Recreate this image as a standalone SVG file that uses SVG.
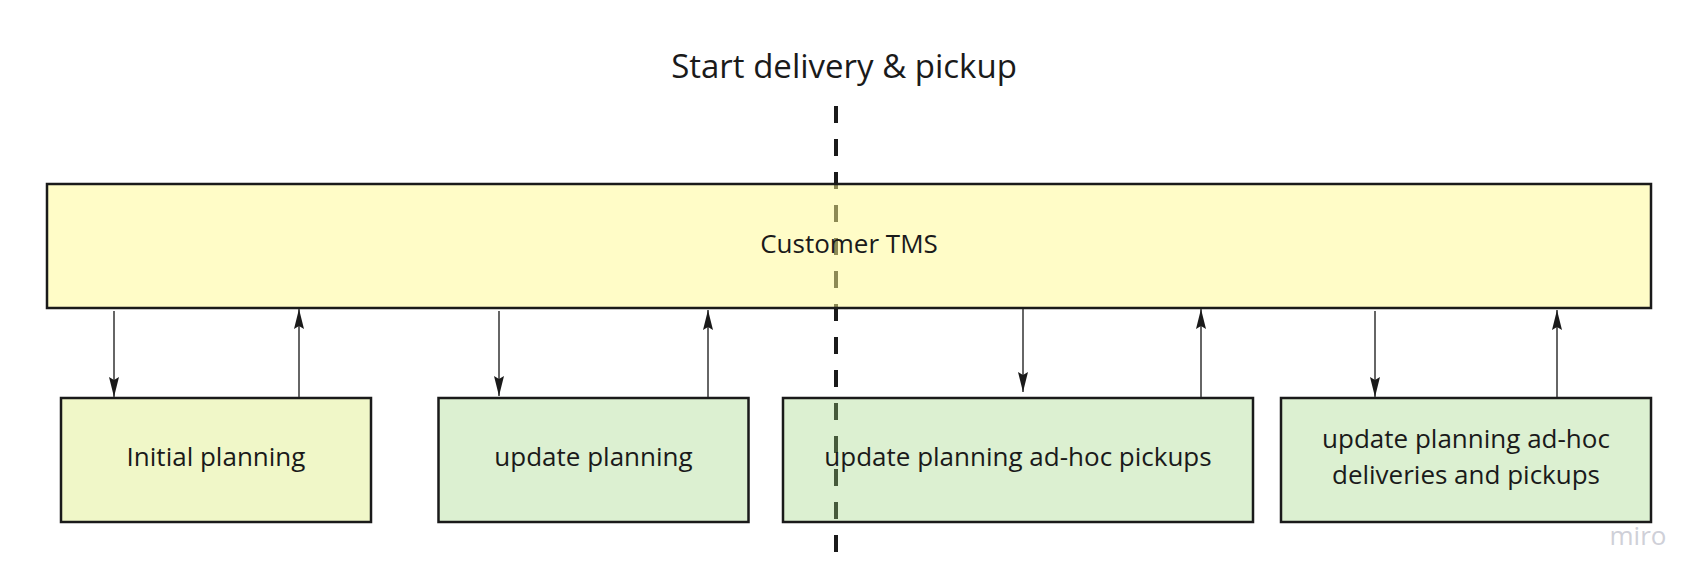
<svg xmlns="http://www.w3.org/2000/svg" width="1706" height="586" viewBox="0 0 1706 586">
<style>
  text { font-family: "Open Sans", "Noto Sans", "DejaVu Sans", sans-serif; fill: #1a1a1a; }
  .box { stroke: #1a1a1a; stroke-width: 2.5; }
  .tms { fill: #fffa8f; fill-opacity: 0.5; }
  .init { fill: #f0f7c8; }
  .green { fill: #9bd47a; fill-opacity: 0.35; }
  .lbl { font-size: 26px; text-anchor: middle; }
  .conn { stroke: #333333; stroke-width: 1.5; fill: none; marker-end: url(#ah); }
</style>
<defs>
  <marker id="ah" viewBox="0 0 20 10" refX="20" refY="5" markerWidth="20" markerHeight="10" markerUnits="userSpaceOnUse" orient="auto">
    <path d="M0,0 L20,5 L0,10 L3,5 Z" fill="#1a1a1a"/>
  </marker>
</defs>
<rect width="1706" height="586" fill="#ffffff"/>
<text id="title" x="844" y="78" font-size="33" text-anchor="middle">Start delivery &amp; pickup</text>
<line id="divider" x1="836" y1="106" x2="836" y2="552" stroke="#1a1a1a" stroke-width="4" stroke-dasharray="17 16"/>
<g id="tms">
  <rect class="box tms" x="47" y="184" width="1604" height="124"/>
  <text class="lbl" x="849" y="253">Customer TMS</text>
</g>
<g id="initial-planning">
  <rect class="box init" x="61" y="398" width="310" height="124"/>
  <text class="lbl" x="216" y="466">Initial planning</text>
</g>
<g id="update-planning">
  <rect class="box green" x="438.5" y="398" width="310" height="124"/>
  <text class="lbl" x="593.5" y="466">update planning</text>
</g>
<g id="update-adhoc-pickups">
  <rect class="box green" x="783" y="398" width="470" height="124"/>
  <text class="lbl" x="1018" y="466">update planning ad-hoc pickups</text>
</g>
<g id="update-adhoc-deliveries">
  <rect class="box green" x="1281" y="398" width="370" height="124"/>
  <text class="lbl" x="1466" y="448">update planning ad-hoc</text>
  <text class="lbl" x="1466" y="484">deliveries and pickups</text>
</g>
<g id="connectors">
  <line class="conn" x1="114" y1="311" x2="114" y2="397"/>
  <line class="conn" x1="299" y1="397" x2="299" y2="309"/>
  <line class="conn" x1="499" y1="311" x2="499" y2="396"/>
  <line class="conn" x1="708" y1="397" x2="708" y2="310"/>
  <line class="conn" x1="1023" y1="309" x2="1023" y2="392"/>
  <line class="conn" x1="1201" y1="397" x2="1201" y2="309"/>
  <line class="conn" x1="1375" y1="311" x2="1375" y2="397"/>
  <line class="conn" x1="1557" y1="397" x2="1557" y2="310"/>
</g>
<text id="watermark" x="1638" y="545" font-size="26" text-anchor="middle" style="fill:#cfd0d8">miro</text>
</svg>
